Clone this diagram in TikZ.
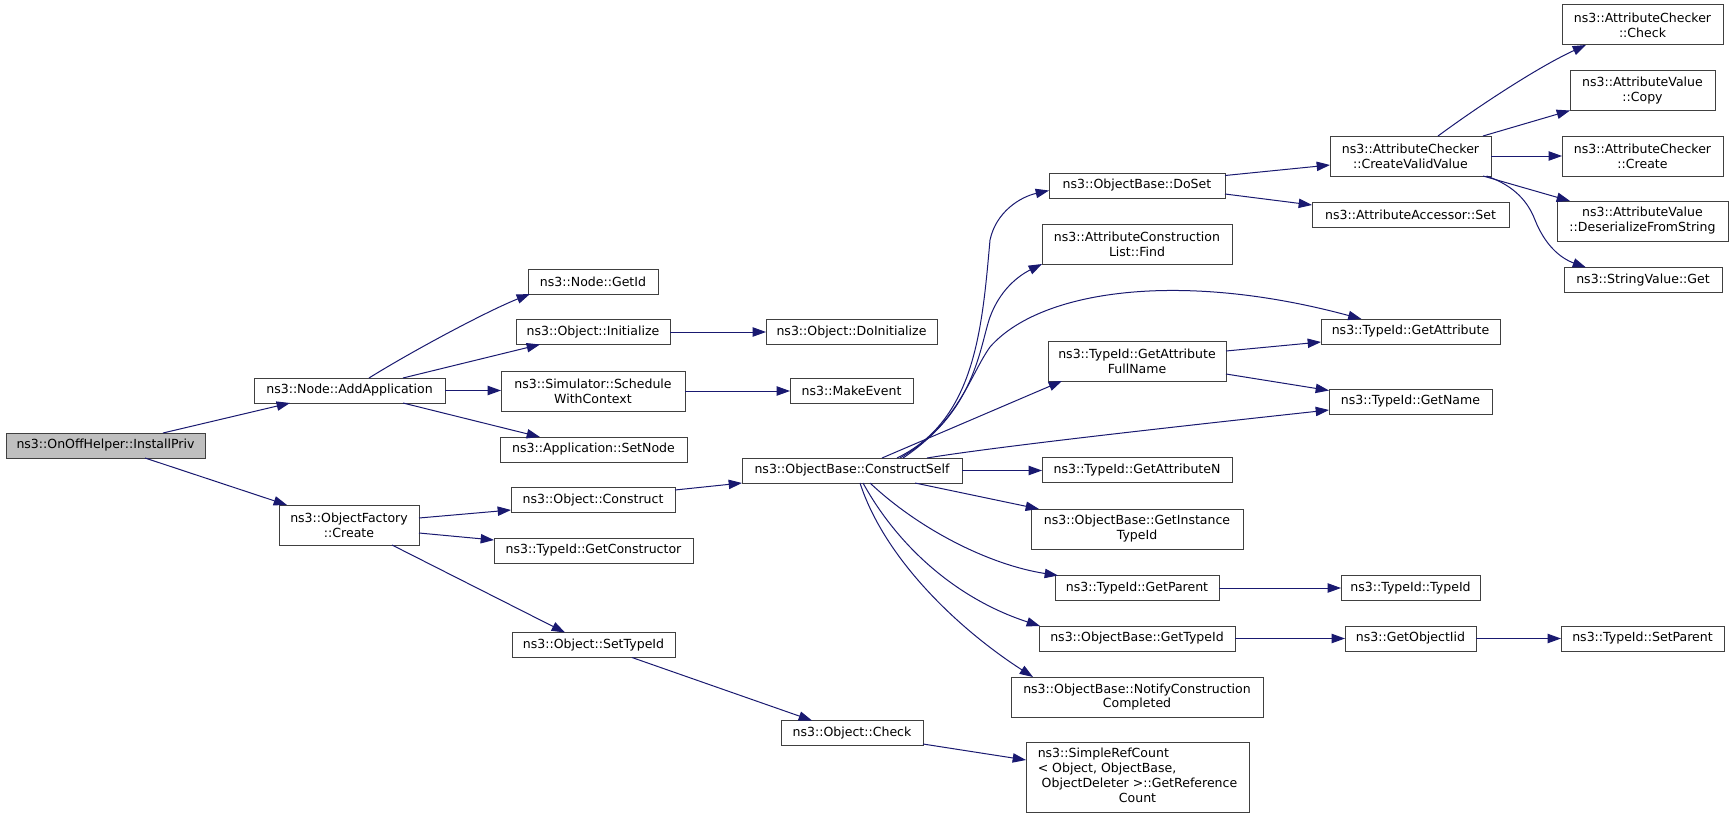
\documentclass[tikz,border=0pt]{standalone}
\usepackage{fontspec}
\setmainfont{DejaVu Sans}
\usetikzlibrary{arrows.meta,calc}
\definecolor{edgeblue}{HTML}{191970}
\definecolor{boxborder}{HTML}{404040}
\definecolor{hlfill}{HTML}{BFBFBF}
\newcommand\dxfont{\fontsize{9.4}{11.2}\selectfont}
\tikzset{
  box/.style={draw=boxborder, line width=0.75pt, fill=white, inner sep=0pt, outer sep=0pt, font=\dxfont, align=center},
  hone/.style={minimum height=25*0.75pt},
  htwo/.style={minimum height=40*0.75pt},
  edge/.style={draw=edgeblue, line width=0.75pt, -{Triangle[length=10pt,width=7pt]}, edgeblue}
}
\begin{document}
\begin{tikzpicture}[x=0.75pt, y=-0.75pt]
\fill[white] (0,0) rectangle (1733,817);
\useasboundingbox (0,0) rectangle (1733,817);

% column 1
\node[box, hone, minimum width=199*0.75pt, fill=hlfill] (installpriv) at (105.5,445.5) {ns3::OnOffHelper::InstallPriv};
% column 2
\node[box, hone, minimum width=191*0.75pt] (addapp) at (349.5,390.5) {ns3::Node::AddApplication};
\node[box, htwo, minimum width=140*0.75pt] (ofcreate) at (349,525) {ns3::ObjectFactory\\::Create};
% column 3
\node[box, hone, minimum width=130*0.75pt] (getid) at (593,281.5) {ns3::Node::GetId};
\node[box, hone, minimum width=154*0.75pt] (initialize) at (593,332) {ns3::Object::Initialize};
\node[box, htwo, minimum width=184*0.75pt] (schedule) at (593,391) {ns3::Simulator::Schedule\\WithContext};
\node[box, hone, minimum width=187*0.75pt] (setnode) at (593.5,449.5) {ns3::Application::SetNode};
\node[box, hone, minimum width=164*0.75pt] (construct) at (593,500) {ns3::Object::Construct};
\node[box, hone, minimum width=199*0.75pt] (getconstructor) at (593.5,550.5) {ns3::TypeId::GetConstructor};
\node[box, hone, minimum width=163*0.75pt] (settypeid) at (593.5,645) {ns3::Object::SetTypeId};
% column 4
\node[box, hone, minimum width=171*0.75pt] (doinit) at (851.5,332) {ns3::Object::DoInitialize};
\node[box, hone, minimum width=123*0.75pt] (makeevent) at (851.5,390.5) {ns3::MakeEvent};
\node[box, hone, minimum width=220*0.75pt] (constructself) at (852,470.5) {ns3::ObjectBase::ConstructSelf};
\node[box, hone, minimum width=142*0.75pt] (objcheck) at (852,733) {ns3::Object::Check};
% column 5
\node[box, hone, minimum width=176*0.75pt] (doset) at (1137,185.5) {ns3::ObjectBase::DoSet};
\node[box, htwo, minimum width=190*0.75pt] (acfind) at (1137,244) {ns3::AttributeConstruction\\List::Find};
\node[box, htwo, minimum width=178*0.75pt] (getattrfullname) at (1137,361) {ns3::TypeId::GetAttribute\\FullName};
\node[box, hone, minimum width=190*0.75pt] (getattrn) at (1137,470) {ns3::TypeId::GetAttributeN};
\node[box, htwo, minimum width=212*0.75pt] (getinstancetypeid) at (1137,529) {ns3::ObjectBase::GetInstance\\TypeId};
\node[box, hone, minimum width=164*0.75pt] (getparent) at (1137,588) {ns3::TypeId::GetParent};
\node[box, hone, minimum width=196*0.75pt] (obgettypeid) at (1137,638.5) {ns3::ObjectBase::GetTypeId};
\node[box, htwo, minimum width=252*0.75pt] (notify) at (1137,697) {ns3::ObjectBase::NotifyConstruction\\Completed};
\node[box, minimum height=70*0.75pt, minimum width=223*0.75pt] (simplerefcount) at (1137.5,777) {\begin{tabular}{@{}l@{}}ns3::SimpleRefCount\\< Object, ObjectBase,\\\ ObjectDeleter >::GetReference\\\multicolumn{1}{@{}c@{}}{Count}\end{tabular}};
% column 6
\node[box, htwo, minimum width=161*0.75pt] (createvalid) at (1410.5,156) {ns3::AttributeChecker\\::CreateValidValue};
\node[box, hone, minimum width=197*0.75pt] (accessorset) at (1410.5,214.5) {ns3::AttributeAccessor::Set};
\node[box, hone, minimum width=179*0.75pt] (getattribute) at (1410.5,331.5) {ns3::TypeId::GetAttribute};
\node[box, hone, minimum width=163*0.75pt] (getname) at (1410.5,401.5) {ns3::TypeId::GetName};
\node[box, hone, minimum width=139*0.75pt] (typeidtypeid) at (1410.5,588) {ns3::TypeId::TypeId};
\node[box, hone, minimum width=131*0.75pt] (getobjectiid) at (1410.5,638.5) {ns3::GetObjectIid};
% column 7
\node[box, htwo, minimum width=161*0.75pt] (acheck) at (1642.5,25) {ns3::AttributeChecker\\::Check};
\node[box, htwo, minimum width=145*0.75pt] (avcopy) at (1642.5,90.5) {ns3::AttributeValue\\::Copy};
\node[box, htwo, minimum width=161*0.75pt] (accreate) at (1642.5,156) {ns3::AttributeChecker\\::Create};
\node[box, htwo, minimum width=171*0.75pt] (avdeserialize) at (1642.5,221) {ns3::AttributeValue\\::DeserializeFromString};
\node[box, hone, minimum width=158*0.75pt] (stringget) at (1643,280) {ns3::StringValue::Get};
\node[box, hone, minimum width=163*0.75pt] (setparent) at (1642.5,638.5) {ns3::TypeId::SetParent};

% edges
\draw[edge] ($(installpriv.north)+(57.5,0)$) -- ($(addapp.south)+(-59.5,0)$);
\draw[edge] ($(installpriv.south)+(39.5,0)$) -- ($(ofcreate.north)+(-62,0)$);
\draw[edge] ($(addapp.north)+(19.5,0)$) .. controls (409,353) and (485,312) .. ($(getid.south west)+(2,0)$);
\draw[edge] ($(addapp.north)+(53.5,0)$) -- ($(initialize.south)+(-53,0)$);
\draw[edge] (addapp.east) -- (addapp.east -| schedule.west);
\draw[edge] ($(addapp.south)+(53.5,0)$) -- ($(setnode.north)+(-53.5,0)$);
\draw[edge] (initialize.east) -- (doinit.west);
\draw[edge] (schedule.east) -- (schedule.east -| makeevent.west);
\draw[edge] ($(ofcreate.east)+(0,-7)$) -- ($(construct.west)+(0,10)$);
\draw[edge] ($(ofcreate.east)+(0,8)$) -- ($(getconstructor.west)+(0,-10.5)$);
\draw[edge] ($(ofcreate.south)+(43,0)$) -- ($(settypeid.north)+(-28.5,0)$);
\draw[edge] ($(construct.east)+(0,-10)$) -- (constructself.south west);
\draw[edge] ($(settypeid.south)+(38.5,0)$) -- ($(objcheck.north)+(-40,0)$);
\draw[edge] ($(objcheck.east)+(0,11)$) -- ($(simplerefcount.west)+(0,-17)$);

\draw[edge] ($(constructself.north)+(45,0)$) .. controls (975,420) and (982,330) .. (990,240) .. controls (996,212) and (1020,197) .. ($(doset.west)+(0,5)$);
\draw[edge] ($(constructself.north)+(48,0)$) .. controls (975,415) and (980,345) .. (990,317) .. controls (1000,290) and (1018,276) .. (acfind.south west);
\draw[edge] ($(constructself.north)+(51,0)$) .. controls (960,420) and (970,375) .. (990,347) .. controls (1040,290) and (1180,270) .. ($(getattribute.north)+(-49,0)$);
\draw[edge] ($(constructself.north)+(30,0)$) -- ($(getattrfullname.south)+(-75,0)$);
\draw[edge] ($(constructself.north)+(75,0)$) .. controls (1000,446) and (1200,424) .. ($(getname.west)+(0,8.5)$);
\draw[edge] (constructself.east) -- (constructself.east -| getattrn.west);
\draw[edge] ($(constructself.south)+(63,0)$) -- ($(getinstancetypeid.north west)+(8,0)$);
\draw[edge] ($(constructself.south)+(18,0)$) .. controls (920,530) and (990,565) .. ($(getparent.north west)+(3,0)$);
\draw[edge] ($(constructself.south)+(11,0)$) .. controls (900,550) and (960,600) .. ($(obgettypeid.north west)+(1,0)$);
\draw[edge] ($(constructself.south)+(8,0)$) .. controls (885,560) and (960,630) .. ($(notify.north west)+(22,0)$);

\draw[edge] ($(getattrfullname.east)+(0,-10)$) -- ($(getattribute.west)+(0,10.5)$);
\draw[edge] ($(getattrfullname.east)+(0,13)$) -- ($(getname.west)+(0,-11)$);
\draw[edge] (getparent.east) -- (typeidtypeid.west);
\draw[edge] (obgettypeid.east) -- (getobjectiid.west);
\draw[edge] (getobjectiid.east) -- (setparent.west);
\draw[edge] ($(doset.east)+(0,-10)$) -- ($(createvalid.west)+(0,9)$);
\draw[edge] ($(doset.east)+(0,8.5)$) -- ($(accessorset.west)+(0,-9.5)$);

\draw[edge] ($(createvalid.north)+(27.5,0)$) .. controls (1480,105) and (1540,66) .. ($(acheck.south west)+(24,0)$);
\draw[edge] ($(createvalid.north)+(72.5,0)$) -- (avcopy.south west);
\draw[edge] (createvalid.east) -- (accreate.west);
\draw[edge] ($(createvalid.south)+(72.5,0)$) -- ($(avdeserialize.north west)+(13,0)$);
\draw[edge] ($(createvalid.south)+(76,0)$) .. controls (1515,186) and (1528,202) .. (1535,220) .. controls (1545,245) and (1560,258) .. ($(stringget.north west)+(22,0)$);
\end{tikzpicture}
\end{document}
